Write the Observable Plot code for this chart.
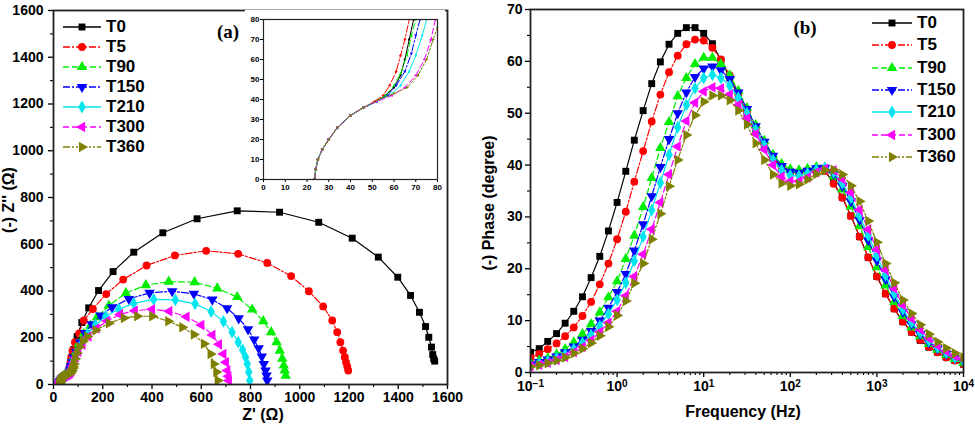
<!DOCTYPE html>
<html><head><meta charset="utf-8">
<script src="https://cdn.jsdelivr.net/npm/d3@7"></script>
<script src="https://cdn.jsdelivr.net/npm/@observablehq/plot@0.6"></script>
<style>
body{margin:0;background:#fff;}
#wrap{position:relative;width:975px;height:426px;overflow:hidden;font-family:"Liberation Sans",Arial,sans-serif;color:#000;}
.abs{position:absolute;}
.lbl{position:absolute;font-weight:bold;font-size:16px;white-space:nowrap;transform:translate(-50%,-50%);}
.rot{transform:translate(-50%,-50%) rotate(-90deg);}
.panel{position:absolute;font-family:"Liberation Serif","Times New Roman",serif;font-weight:bold;font-size:19px;transform:translate(-50%,-50%);}
.leg{position:absolute;font-weight:bold;font-size:17px;}
.leg .row{position:absolute;left:0;display:flex;align-items:center;height:20px;white-space:nowrap;}
.leg svg{display:block;margin-right:5px;}
</style></head><body><div id="wrap"></div>
<script>
// ---------- series meta ----------
const seriesNames = ["T0","T5","T90","T150","T210","T300","T360"];
const seriesColors = ["#000000","#ff0000","#00ee00","#0000ff","#00e5ee","#ff00ff","#808000"];
const seriesDash = [null,"7,2,2,2","6,3","7,2,2,2",null,"6,3","7,2,2,2,2,2"];

// ---------- Nyquist data: [Z', -Z''] ----------
const nyqT0 = [[23.5,0],[24,5],[25,10],[27,15],[30,20],[34,26],[40,32],[46,36],[52,39],[56,42],[60,46],[63,52],[65,60],[67,70],[69,80],[72,100],[76,120],[83,150],[96,205],[115,265],[143,328],[183,402],[242,483],[326,566],[444,649],[583,709],[746,743],[918,737],[1077,694],[1213,626],[1319,545],[1398,459],[1450,381],[1486,309],[1511,248],[1524,202],[1535,160],[1540,128],[1544,110],[1548,100]];
const nyqT5 = [[23.5,0],[24,5],[25,10],[27,15],[30,20],[34,26],[40,32],[46,36],[51,39],[55,42],[58,47],[61,54],[63,62],[65,70],[67,80],[69,95],[72,117],[77,145],[87,181],[104,219],[123,274],[160,323],[214,387],[283,449],[378,509],[493,552],[620,572],[750,559],[868,520],[965,464],[1037,399],[1095,334],[1132,274],[1152,224],[1165,181],[1176,145],[1183,117],[1188,95],[1193,77],[1197,60]];
const nyqT90 = [[23.5,0],[24,5],[25,10],[27,15],[30,20],[34,26],[40,32],[46,36],[52,39],[56,42],[60,47],[63,53],[66,62],[68,72],[70,80],[74,95],[80,115],[89,135],[103,174],[123,217],[150,252],[177,288],[225,338],[294,391],[375,425],[468,440],[573,438],[665,411],[746,374],[807,321],[852,271],[884,224],[906,181],[919,145],[929,110],[935,81],[939,60],[943,38]];
const nyqT150 = [[23.5,0],[24,5],[25,10],[27,15],[30,20],[34,26],[40,32],[46,36],[52,39],[57,42],[61,47],[65,54],[68,63],[70,72],[72,80],[76,95],[82,115],[92,140],[108,180],[128,220],[155,258],[191,295],[238,330],[306,366],[390,392],[482,399],[570,388],[645,363],[705,326],[752,283],[790,236],[815,192],[833,155],[846,120],[854,88],[861,60],[865,38],[868,17]];
const nyqT210 = [[23.5,0],[24,5],[25,10],[27,15],[30,20],[34,26],[40,32],[46,36],[52,39],[58,42],[63,47],[67,54],[70,62],[73,72],[75,80],[79,95],[86,115],[97,140],[115,175],[138,215],[170,255],[212,292],[265,322],[326,347],[407,364],[495,362],[575,345],[640,312],[690,270],[725,224],[750,181],[768,148],[780,117],[787,88],[793,53],[797,17]];
const nyqT300 = [[23.5,0],[24,5],[25,10],[27,15],[30,20],[34,26],[40,32],[46,36],[52,39],[59,42],[65,46],[70,52],[74,60],[77,70],[79,80],[83,95],[90,115],[101,140],[118,170],[142,205],[175,240],[218,272],[270,300],[330,316],[400,322],[470,313],[540,290],[600,255],[645,212],[672,172],[690,131],[700,95],[706,60],[710,35],[712,17]];
const nyqT360 = [[23.5,0],[24,5],[25,10],[27,15],[30,20],[34,26],[40,32],[46,36],[53,40],[60,43],[66,46],[71,52],[75,60],[78,70],[80,76],[83,88],[88,110],[95,135],[105,160],[120,185],[137,205],[171,232],[225,262],[286,285],[340,292],[401,292],[466,271],[523,245],[570,214],[611,174],[638,131],[651,88],[661,53],[667,17]];
const nyquist = [nyqT0,nyqT5,nyqT90,nyqT150,nyqT210,nyqT300,nyqT360];

// ---------- Bode phase data ----------
const freq = [0.1,0.126,0.158,0.2,0.251,0.316,0.398,0.501,0.631,0.794,1,1.26,1.58,2,2.51,3.16,3.98,5.01,6.31,7.94,10,12.6,15.8,20,25.1,31.6,39.8,50.1,63.1,79.4,100,126,158,200,251,316,398,501,631,794,1000,1259,1585,1995,2512,3162,3981,5012,6310,7943,10000];
const phT0 = [3.9,4.6,6.0,7.5,9.5,11.8,14.6,18.3,22.4,27.3,32.8,38.8,44.8,50.5,55.7,59.9,63.3,65.4,66.5,66.5,65.4,63.4,60.2,56.8,53.3,50.0,46.8,43.8,41.3,39.6,38.7,38.5,38.8,39.3,38.9,36.6,33.8,30.2,26.2,22.2,18.5,15.2,12.3,9.8,7.8,6.2,4.9,3.9,3.0,2.3,1.6];
const phT5 = [2.8,3.6,4.5,5.6,7.0,8.7,10.9,13.6,17.0,21.0,25.7,31.0,36.8,42.7,48.4,53.6,57.9,61.1,63.3,64.2,64.0,62.6,60.4,57.3,53.8,50.3,47.0,44.0,41.5,39.7,38.8,38.6,38.9,39.3,38.9,36.4,33.7,30.2,26.2,22.2,18.5,15.2,12.3,9.8,7.8,6.3,4.9,3.9,2.9,2.3,1.6];
const phT90 = [1.9,2.3,2.8,3.5,4.5,5.8,7.4,9.3,11.6,14.5,17.6,21.9,26.4,31.9,37.5,43.3,48.3,53.3,56.8,59.5,60.7,60.7,59.5,57.3,54.3,51.0,47.7,44.7,42.0,40.2,39.2,39.0,39.3,39.6,39.4,37.8,35.3,32.0,28.2,24.2,20.3,16.8,13.6,10.9,8.7,7.0,5.5,4.4,3.4,2.6,1.9];
const phT150 = [1.6,2.0,2.5,3.1,3.9,5.0,6.3,8.0,10.0,12.5,15.5,19.0,23.5,28.6,34.0,39.6,45.0,50.0,54.0,57.0,58.6,59.0,58.3,56.6,54.0,50.8,47.5,44.5,41.8,39.8,38.7,38.5,38.9,39.4,39.5,38.3,36.0,33.0,29.4,25.5,21.6,18.0,14.6,11.7,9.3,7.4,5.8,4.6,3.6,2.8,2.1];
const phT210 = [1.4,1.8,2.2,2.8,3.5,4.5,5.7,7.2,9.0,11.3,14.0,17.3,21.5,26.2,31.3,36.6,42.0,47.3,51.6,54.8,56.8,57.4,56.8,55.3,53.0,50.0,46.8,43.8,41.0,39.0,38.0,37.9,38.4,39.1,39.5,38.6,36.5,33.7,30.2,26.4,22.5,18.7,15.2,12.2,9.7,7.7,6.1,4.8,3.8,2.9,2.2];
const phT300 = [1.2,1.5,1.9,2.4,3.0,3.9,4.9,6.2,7.8,9.6,11.8,14.8,18.5,22.8,27.6,32.8,38.2,43.6,48.5,52.0,54.2,55.0,54.8,53.6,51.6,49.0,46.0,43.0,40.0,37.8,36.9,36.9,37.6,38.6,39.3,39.0,37.3,34.7,31.4,27.6,23.7,19.8,16.2,13.0,10.4,8.3,6.6,5.2,4.1,3.2,2.5];
const phT360 = [1.1,1.4,1.8,2.3,2.9,3.7,4.6,5.7,7.1,8.8,11.0,13.8,17.2,21.0,25.7,30.6,35.9,41.0,45.8,49.6,52.2,53.4,53.4,52.5,50.5,47.8,44.2,41.0,38.2,36.5,36.0,36.3,37.2,38.3,39.0,39.1,38.2,36.0,33.0,29.2,25.1,21.0,17.3,14.0,11.4,9.2,7.4,5.9,4.7,3.7,2.9];
const phase = [phT0,phT5,phT90,phT150,phT210,phT300,phT360];

// ---------- ticks ----------
const nyqTicks = [0,200,400,600,800,1000,1200,1400,1600];
const nyqMinor = [100,300,500,700,900,1100,1300,1500];
const insetTicks = [0,10,20,30,40,50,60,70,80];
const phaseTicks = [0,10,20,30,40,50,60,70];
const phaseMinor = [5,15,25,35,45,55,65];
const freqTicks = [0.1,1,10,100,1000,10000];
const freqTickExp = ["-1","0","1","2","3","4"];
const minorMult = [2,3,4,5,6,7,8,9];
const freqMinor = [0.1,1,10,100,1000].flatMap(d => minorMult.map(m => d*m));

// ---------- symbols ----------
function rotated(base, deg){
  const a = deg*Math.PI/180, c = Math.cos(a), s = Math.sin(a);
  return {draw(ctx, size){
    const p = {moveTo:(x,y)=>ctx.moveTo(x*c-y*s,x*s+y*c), lineTo:(x,y)=>ctx.lineTo(x*c-y*s,x*s+y*c), closePath:()=>ctx.closePath()};
    base.draw(p, size);
  }};
}
const seriesSymbols = [d3.symbolSquare, d3.symbolCircle, d3.symbolTriangle, rotated(d3.symbolTriangle,180), d3.symbolDiamond, rotated(d3.symbolTriangle,-90), rotated(d3.symbolTriangle,90)];

const wrap = document.getElementById("wrap");
const fontStyle = {fontFamily:'"Liberation Sans",Arial,sans-serif', fontWeight:"bold", background:"transparent", overflow:"visible"};

function seriesMarks(datasets, r, sw){
  const marks = [];
  datasets.forEach((data,i)=>{
    marks.push(Plot.line(data,{x:"x",y:"y",stroke:seriesColors[i],strokeWidth:sw,strokeDasharray:seriesDash[i],clip:true}));
    marks.push(Plot.dot(data,{x:"x",y:"y",fill:seriesColors[i],stroke:"none",r,symbol:seriesSymbols[i],clip:true}));
  });
  return marks;
}

// ---------- Left: Nyquist ----------
const nyqData = nyquist.map(arr => arr.map(([x,y])=>({x,y})));
const left = Plot.plot({
  width:470, height:426, marginLeft:53, marginRight:23, marginTop:10, marginBottom:42,
  style:{...fontStyle, fontSize:"14px"},
  x:{domain:[0,1600]}, y:{domain:[0,1600]},
  marks:[
    ...seriesMarks(nyqData, 3.9, 1.2),
    Plot.axisX(nyqTicks,{label:null, tickSize:5, tickPadding:3, tickFormat:d=>String(d), strokeWidth:1.3}),
    Plot.axisX(nyqMinor,{label:null, tickSize:3, tickFormat:()=>"", strokeWidth:1.1}),
    Plot.axisY(nyqTicks,{label:null, tickSize:5, tickPadding:5, tickFormat:d=>String(d), strokeWidth:1.3}),
    Plot.axisY(nyqMinor,{label:null, tickSize:3, tickFormat:()=>"", strokeWidth:1.1}),
    Plot.frame({stroke:"#222", strokeWidth:1.8})
  ]
});
left.classList.add("abs"); left.style.left="0px"; left.style.top="0px";
wrap.appendChild(left);

// ---------- Inset ----------
const inset = Plot.plot({
  width:200, height:185, marginLeft:18, marginRight:8, marginTop:9, marginBottom:16,
  style:{...fontStyle, fontSize:"8px", background:"#fff"},
  x:{domain:[0,80]}, y:{domain:[0,80]},
  marks:[
    ...seriesMarks(nyqData, 1.2, 1),
    Plot.axisX(insetTicks,{label:null, tickSize:3, tickPadding:2, tickFormat:d=>String(d)}),
    Plot.axisY(insetTicks,{label:null, tickSize:3, tickPadding:1, tickFormat:d=>String(d)}),
    Plot.frame({stroke:"#222", strokeWidth:1.2})
  ]
});
inset.classList.add("abs"); inset.style.left="245px"; inset.style.top="10px";
wrap.appendChild(inset);

// ---------- Right: Bode phase ----------
const phaseData = phase.map(vals => vals.map((v,j)=>({x:freq[j], y:v})));
const right = Plot.plot({
  width:495, height:426, marginLeft:50, marginRight:12, marginTop:9, marginBottom:54,
  style:{...fontStyle, fontSize:"14px"},
  x:{type:"log", domain:[0.1,10000]}, y:{domain:[0,70]},
  marks:[
    ...seriesMarks(phaseData, 3.9, 1.2),
    Plot.axisX(freqTicks,{label:null, tickSize:5, tickPadding:4, tickFormat:d=>"10|"+freqTickExp[freqTicks.indexOf(d)], strokeWidth:1.3}),
    Plot.axisX(freqMinor,{label:null, tickSize:3, tickFormat:()=>"", strokeWidth:1.1}),
    Plot.axisY(phaseTicks,{label:null, tickSize:5, tickPadding:3, tickFormat:d=>String(d), strokeWidth:1.3}),
    Plot.axisY(phaseMinor,{label:null, tickSize:3, tickFormat:()=>"", strokeWidth:1.1}),
    Plot.frame({stroke:"#222", strokeWidth:1.8})
  ]
});
// render exponents as superscript tspans
right.querySelectorAll("text").forEach(t => {
  const s = t.textContent;
  if (s.includes("|")) {
    const [base, ex] = s.split("|");
    t.textContent = base;
    const ts = document.createElementNS("http://www.w3.org/2000/svg","tspan");
    ts.setAttribute("dy","-0.45em");
    ts.setAttribute("font-size","10px");
    ts.textContent = ex === "-1" ? "\u2212" + "1" : ex;
    t.appendChild(ts);
  }
});
right.classList.add("abs"); right.style.left="480px"; right.style.top="0px";
wrap.appendChild(right);

// ---------- Legends ----------
function legend(x, y0, step, lineW){
  const box = document.createElement("div");
  box.className = "leg"; box.style.left = x+"px"; box.style.top = y0+"px";
  seriesNames.forEach((name,i)=>{
    const row = document.createElement("div");
    row.className = "row"; row.style.top = (i*step - 10)+"px";
    const svg = d3.create("svg").attr("width", lineW).attr("height", 20);
    svg.append("line").attr("x1",0).attr("x2",lineW).attr("y1",10).attr("y2",10)
      .attr("stroke",seriesColors[i]).attr("stroke-width",1.5).attr("stroke-dasharray",seriesDash[i]);
    svg.append("path").attr("transform",`translate(${lineW/2},10)`)
      .attr("d", d3.symbol(seriesSymbols[i], 3.9*3.9*Math.PI)()).attr("fill",seriesColors[i]);
    row.appendChild(svg.node());
    const t = document.createElement("span"); t.textContent = name;
    row.appendChild(t);
    box.appendChild(row);
  });
  wrap.appendChild(box);
}
legend(63, 27, 20, 38);
legend(872, 23, 22.3, 40);

// ---------- Labels ----------
function label(text, x, y, cls){
  const d = document.createElement("div");
  d.className = cls; d.textContent = text;
  d.style.left = x+"px"; d.style.top = y+"px";
  wrap.appendChild(d);
}
label("Z' (\u03A9)", 263, 415, "lbl");
label("(-) Z'' (\u03A9)", 9, 200, "lbl rot");
label("Frequency (Hz)", 743, 412, "lbl");
label("(-) Phase (degree)", 489, 203, "lbl rot");
label("(a)", 228, 32, "panel");
label("(b)", 805, 28, "panel");
</script></body></html>
